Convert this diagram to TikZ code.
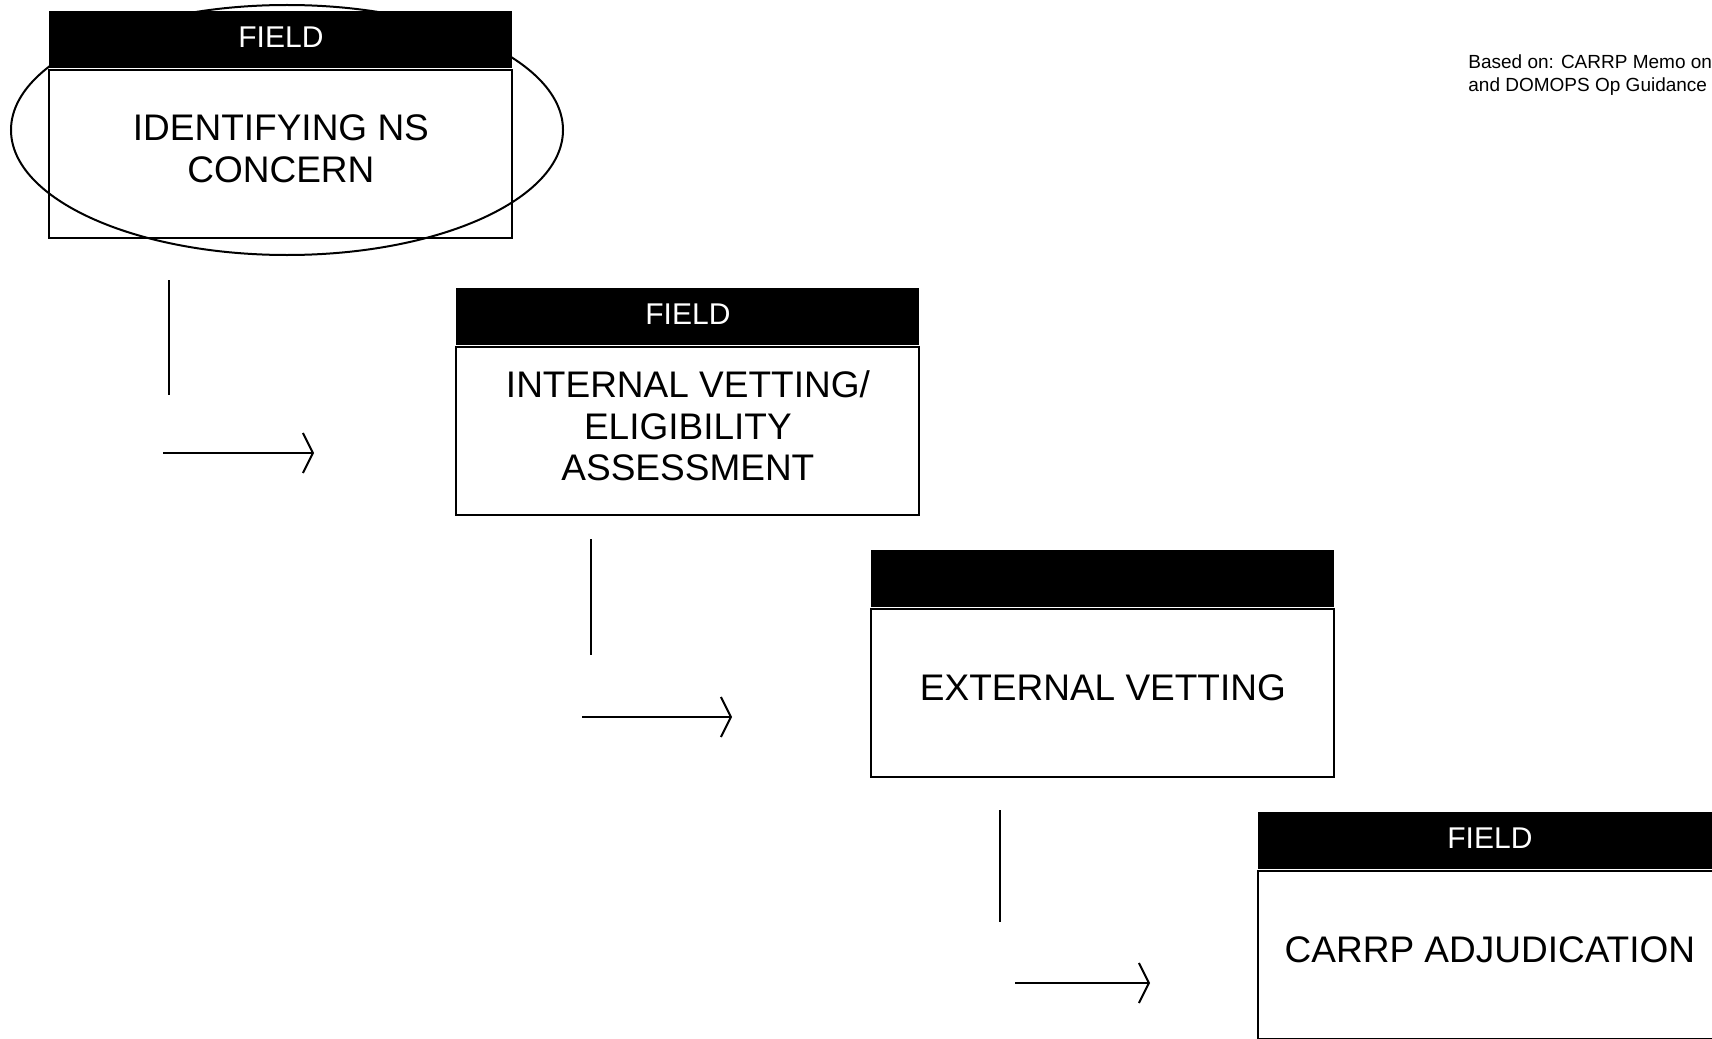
\documentclass[tikz,border=0pt]{standalone}
\usepackage{fontspec}
\setmainfont{Liberation Sans}
\usetikzlibrary{arrows.meta}
\tikzstyle{head} = [fill=black,text=white,minimum width=231.5pt,minimum height=28.5pt,inner sep=0pt,text depth=3pt,anchor=north west,font=\fontsize{15}{18}\selectfont]
\tikzstyle{stage} = [draw,line width=1pt,minimum width=231.5pt,minimum height=84pt,inner sep=0pt,anchor=north]
\tikzstyle{caption} = [align=center,inner sep=0pt,yshift=2.5pt,font=\fontsize{18.5}{20.7}\selectfont]
\tikzstyle{link} = [line width=1pt]
\tikzstyle{linkarrow} = [line width=1pt,-{Straight Barb[length=5pt,width=20pt]}]

\begin{document}
\begin{tikzpicture}[x=0.5pt,y=-0.5pt]
\clip (0,0) rectangle (1712,1038);

\node[head] (h1) at (49,11) {FIELD};
\node[stage] (s1) at (h1.south) {};
\node[caption] (c1) at (s1.center) {IDENTIFYING NS\\CONCERN};
\node[head] (h2) at (456,288) {FIELD};
\node[stage] (s2) at (h2.south) {};
\node[caption] (c2) at (s2.center) {INTERNAL VETTING/\\ELIGIBILITY\\ASSESSMENT};
\node[head] (h3) at (871,550) {};
\node[stage] (s3) at (h3.south) {};
\node[caption] (c3) at (s3.center) {EXTERNAL VETTING};
\node[head] (h4) at (1258,812) {FIELD};
\node[stage] (s4) at (h4.south) {};
\node[caption] (c4) at (s4.center) {CARRP ADJUDICATION};

\draw[line width=1pt] (287,130) ellipse [x radius=276, y radius=125];

\node[anchor=base west,inner sep=0pt,align=left,font=\fontsize{9.5}{12}\selectfont] (note) at (1468,92) {Based on: CARRP Memo on\\and DOMOPS Op Guidance};

% broken elbows between stages
\coordinate (v1a) at (169,280); \coordinate (v1b) at (169,395);
\coordinate (t1a) at (163,453); \coordinate (t1b) at (314,453);
\coordinate (v2a) at (591,539); \coordinate (v2b) at (591,655);
\coordinate (t2a) at (582,717); \coordinate (t2b) at (732,717);
\coordinate (v3a) at (1000,810); \coordinate (v3b) at (1000,922);
\coordinate (t3a) at (1015,983); \coordinate (t3b) at (1150,983);

\draw[link] (v1a) -- (v1b);
\draw[linkarrow] (t1a) -- (t1b);
\draw[link] (v2a) -- (v2b);
\draw[linkarrow] (t2a) -- (t2b);
\draw[link] (v3a) -- (v3b);
\draw[linkarrow] (t3a) -- (t3b);

\end{tikzpicture}
\end{document}
